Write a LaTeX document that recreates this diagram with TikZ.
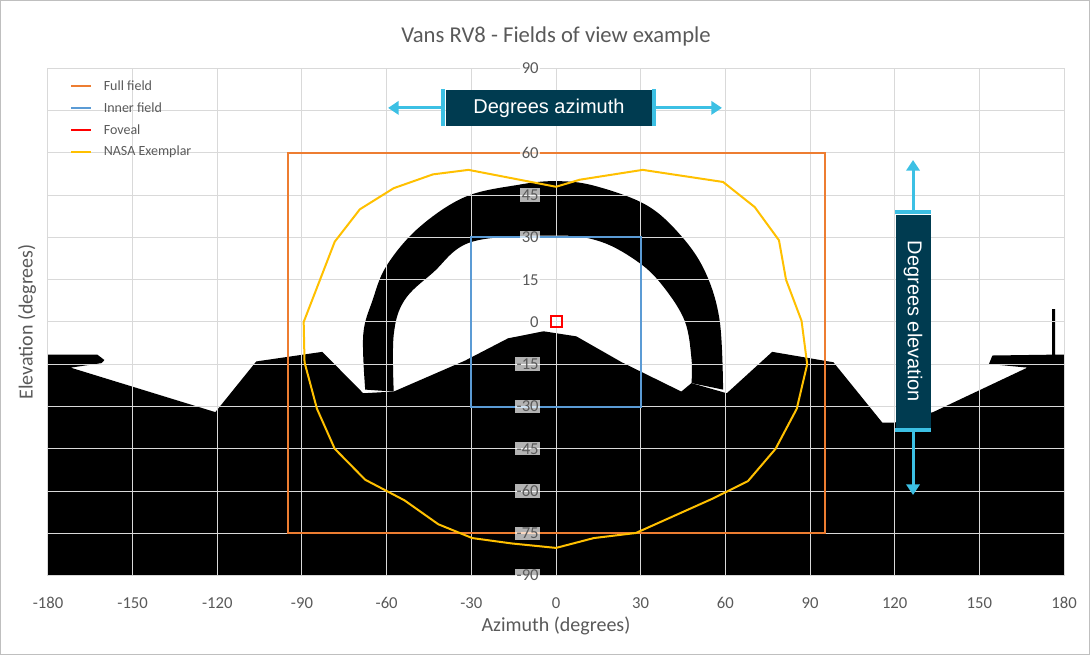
\documentclass[tikz,border=0pt]{standalone}
\usepackage{fontspec}
\setmainfont{Carlito}
\newfontfamily\arialfont{Liberation Sans}
\usetikzlibrary{positioning,arrows.meta}
\definecolor{fullc}{RGB}{237,125,49}
\definecolor{innerc}{RGB}{91,155,213}
\definecolor{fovc}{RGB}{255,0,0}
\definecolor{nasac}{RGB}{255,192,0}
\definecolor{gridc}{RGB}{217,217,217}
\definecolor{txtc}{RGB}{89,89,89}
\definecolor{boxc}{RGB}{0,59,80}
\definecolor{cyanc}{RGB}{60,192,228}
\tikzset{every picture/.style={line width=0.75pt},
  ticklab/.style={text=txtc,font=\fontsize{12.5}{14}\selectfont,inner sep=1pt},
  ylab/.style={ticklab,anchor=east,fill=white,fill opacity=0.7,text opacity=1},
  leglab/.style={text=txtc,font=\fontsize{10.5}{12}\selectfont,anchor=west,inner sep=0pt},
  notebox/.style={fill=boxc,text=white,font=\arialfont\fontsize{15}{18}\selectfont,inner sep=0pt},
  notearrow/.style={cyanc,line width=2.2pt,-{Triangle[length=8pt,width=10pt]}},
  fieldline/.style={line width=1.5pt}}

\begin{document}
\begin{tikzpicture}[x=2.117pt,y=2.113pt]
        \useasboundingbox (-197,-118.2) rectangle (189.2,114.3);
        \draw [color={rgb, 255:red, 191; green, 191; blue, 191 }] (-196.8,-118) rectangle (189,114.1);
        
        %Aircraft ground shape
        \fill [black] (-180,-11.6) -- (-162.5,-11.6) -- (-160,-13.5) -- (-161,-14.6) -- (-172,-16.2) -- (-120.7,-32) -- (-106.2,-14) -- (-82.8,-10.6) -- (-68.3,-25.3) -- (-57.5,-24.7) -- (-32.2,-13.7) -- (-17,-5.8) -- (-4.4,-3.3) -- (7.2,-5.1) -- (23.3,-14.3) -- (44.4,-24.7) -- (48,-21.7) -- (60.5,-25.3) -- (76.6,-10.6) -- (98.3,-14.3) -- (115.6,-35.7) -- (120,-35.7) -- (133.6,-32) -- (167,-16.2) -- (153.4,-14.9) -- (154.6,-11.9) -- (175.8,-11.6) -- (175.8,4.6) -- (176.8,4.6) -- (176.8,-11.6) -- (180,-11.6) -- (180,-90) -- (-180,-90) -- cycle;
        %Canopy arch
        \fill [black] plot[smooth,tension=0.6] coordinates {(-67.6,-24) (-68.3,-4.5) (-65,7.7) (-60,20) (-48.7,33.4) (-32.2,44.4) (-13.3,48.7) (0,50) (13.4,48.4) (32,41.5) (44.4,30.5) (53,17.5) (58,0.4) (59.2,-24)} -- (48,-21.7) -- plot[smooth,tension=0.6] coordinates {(48,-21.7) (48,-13) (45.6,0.4) (38,12.6) (29.5,21) (15.9,28.5) (0,30.7) (-29.7,28.5) (-43.6,17.5) (-53.7,7.7) (-57.5,-4.5) (-57.5,-24.7)} -- cycle;
        
        %Grid
        \foreach \e in {-75,-60,...,75} \draw [gridc] (-180,\e) -- (180,\e);
        \foreach \a in {-150,-120,...,150} \draw [gridc] (\a,-90) -- (\a,90);
        \draw [gridc] (-180,-90) rectangle (180,90);
        
        %Fields
        \draw [fullc,fieldline] (-95.1,-75) rectangle (95.2,60);
        \draw [innerc,fieldline] (-30.2,-30) rectangle (30.2,30);
        \draw [fovc,fieldline] (-1.8,-1.8) rectangle (2.2,2.2);
        \draw [nasac,fieldline] (0,48) -- (8.4,50.5) -- (30.7,54) -- (59.2,49.7) -- (70.4,40.8) -- (79,29) -- (81.5,15) -- (87,0.4) -- (89,-15) -- (85.3,-30.8) -- (77.8,-45) -- (68,-56.5) -- (55.5,-62.7) -- (41.9,-68.8) -- (28.3,-74.9) -- (13.4,-76.7) -- (0,-80.2) -- (-15.8,-78.6) -- (-29.7,-76.7) -- (-41.7,-71.8) -- (-53.7,-63.3) -- (-67.6,-56) -- (-78.4,-45) -- (-84.7,-30.8) -- (-89.1,-14.3) -- (-89.4,0) -- (-78.4,28.5) -- (-69.5,40) -- (-57.5,47.5) -- (-43.6,52.4) -- (-31,54) -- cycle;
        
        %Axis labels
        \foreach \e [count=\i] in {-90,-75,...,90} \node [ylab] (ye\i) at (-5.5,\e) {\e};
        \foreach \a [count=\i] in {-180,-150,...,180} \node [ticklab] (xa\i) at (\a,-99.7) {\a};
        \node [text=txtc,font=\fontsize{15}{18}\selectfont] (xtitle) at (0,-108) {Azimuth (degrees)};
        \node [text=txtc,font=\fontsize{15}{18}\selectfont,rotate=90] (ytitle) at (-187.4,0) {Elevation (degrees)};
        \node [text=txtc,font=\fontsize{17}{20}\selectfont] (title) at (0,101.5) {Vans RV8 - Fields of view example};
        
        %Legend
        \foreach \c/\t [count=\i] in {fullc/Full field,innerc/Inner field,fovc/Foveal,nasac/NASA Exemplar} {
          \coordinate (lg\i) at (-171.8,91.6-7.8*\i);
          \draw [\c,fieldline] (lg\i) -- ++(7.1,0);
          \node [leglab] (lt\i) at ([xshift=11.4*2.117pt]lg\i) {\t};
        }
        
        %Azimuth note
        \node [notebox,minimum width=73*2.117pt,minimum height=36*0.75pt] (azbox) at (-2.5,76) {Degrees azimuth};
        \fill [cyanc] (azbox.north west) rectangle ([xshift=-3pt]azbox.south west);
        \fill [cyanc] (azbox.north east) rectangle ([xshift=3pt]azbox.south east);
        \coordinate (azl) at (-59.5,76);
        \coordinate (azr) at (58.8,76);
        \draw [notearrow] ([xshift=-3pt]azbox.west) -- (azl);
        \draw [notearrow] ([xshift=3pt]azbox.east) -- (azr);
        
        %Elevation note
        \node [notebox,rotate=-90,minimum width=75.6*2.113pt,minimum height=35*0.75pt] (elbox) at (126.5,0.2) {Degrees elevation};
        \fill [cyanc] (elbox.south west) rectangle ([yshift=3pt]elbox.north west);
        \fill [cyanc] (elbox.south east) rectangle ([yshift=-3pt]elbox.north east);
        \coordinate (elt) at (126.5,57.5);
        \coordinate (elb) at (126.5,-61.4);
        \draw [notearrow] ([yshift=3pt]elbox.west) -- (elt);
        \draw [notearrow] ([yshift=-3pt]elbox.east) -- (elb);
    \end{tikzpicture}
\end{document}
